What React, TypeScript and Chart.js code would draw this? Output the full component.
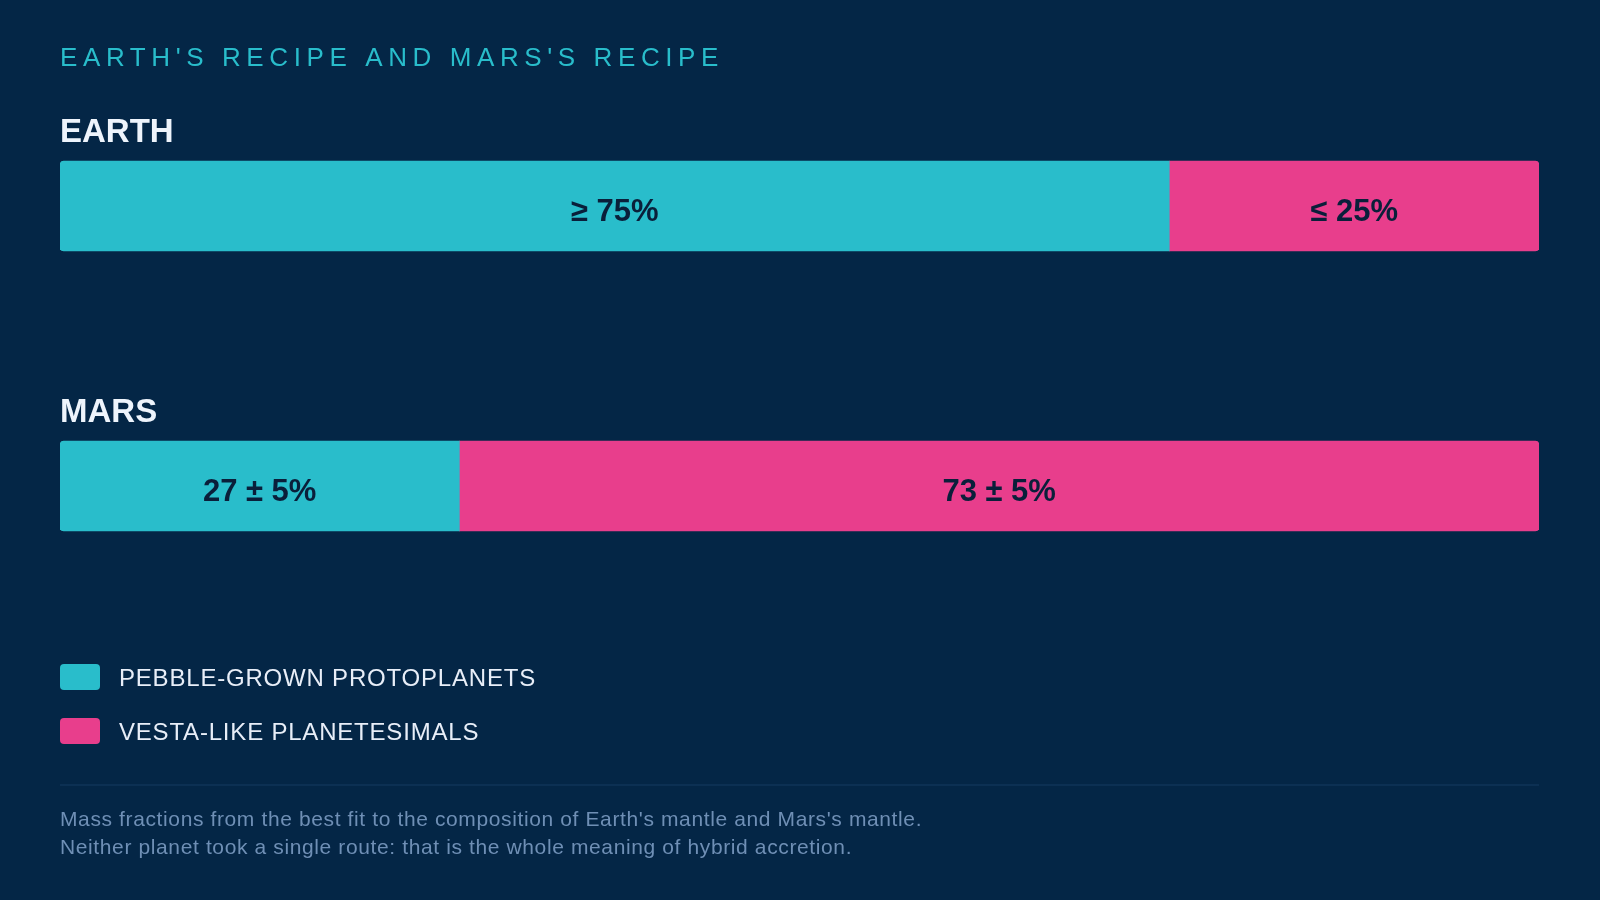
import React, { useEffect, useRef } from "react";
import { Chart, registerables } from "chart.js";

Chart.register(...registerables);

const TITLE = "EARTH'S RECIPE AND MARS'S RECIPE";
const PLANETS = ["EARTH", "MARS"];
const SERIES_NAMES = ["PEBBLE-GROWN PROTOPLANETS", "VESTA-LIKE PLANETESIMALS"];
const PEBBLE_VALUES = [75, 27];
const VESTA_VALUES = [25, 73];
const PEBBLE_LABELS = ["≥ 75%", "27 ± 5%"];
const VESTA_LABELS = ["≤ 25%", "73 ± 5%"];
const FOOTNOTE = [
  "Mass fractions from the best fit to the composition of Earth's mantle and Mars's mantle.",
  "Neither planet took a single route: that is the whole meaning of hybrid accretion.",
];

const BG = "#042646";
const TEAL = "#29bdcb";
const PINK = "#e83e8c";
const FONT = "'Liberation Sans', Arial, Helvetica, sans-serif";

const textPlugin = {
  id: "recipeText",
  afterDraw(chart: any) {
    const ctx = chart.ctx as CanvasRenderingContext2D;
    const area = chart.chartArea;
    ctx.save();
    // Title
    ctx.textAlign = "left";
    ctx.textBaseline = "alphabetic";
    ctx.fillStyle = TEAL;
    ctx.font = `400 26px ${FONT}`;
    (ctx as any).letterSpacing = "5.6px";
    ctx.fillText(TITLE, area.left, 66);
    (ctx as any).letterSpacing = "0px";

    // Headings and bar labels
    const labelsets = [PEBBLE_LABELS, VESTA_LABELS];
    const meta0 = chart.getDatasetMeta(0);
    meta0.data.forEach((el: any, i: number) => {
      const top = el.y - el.height / 2;
      ctx.fillStyle = "#eef4fc";
      ctx.font = `700 33px ${FONT}`;
      ctx.textAlign = "left";
      ctx.fillText(PLANETS[i], area.left, top - 19);
    });
    chart.data.datasets.forEach((_ds: any, d: number) => {
      const meta = chart.getDatasetMeta(d);
      meta.data.forEach((el: any, i: number) => {
        const c = el.getCenterPoint();
        ctx.fillStyle = "#0a1f3a";
        ctx.font = `700 31px ${FONT}`;
        ctx.textAlign = "center";
        ctx.fillText(labelsets[d][i], c.x, c.y + 14.5);
      });
    });

    // Legend
    chart.data.datasets.forEach((ds: any, d: number) => {
      const y = 664 + d * 54;
      ctx.fillStyle = ds.backgroundColor;
      ctx.beginPath();
      (ctx as any).roundRect(area.left, y, 40, 26, 4);
      ctx.fill();
      ctx.fillStyle = "#e8eef8";
      ctx.font = `400 24px ${FONT}`;
      ctx.textAlign = "left";
      (ctx as any).letterSpacing = "0.8px";
      ctx.fillText(ds.label, area.left + 59, y + 22);
      (ctx as any).letterSpacing = "0px";
    });

    // Separator
    ctx.strokeStyle = "#0f3559";
    ctx.lineWidth = 1.5;
    ctx.beginPath();
    ctx.moveTo(area.left, 785);
    ctx.lineTo(area.right, 785);
    ctx.stroke();

    // Footnote
    ctx.fillStyle = "#6f8fb5";
    ctx.font = `400 21px ${FONT}`;
    ctx.textAlign = "left";
    (ctx as any).letterSpacing = "0.62px";
    FOOTNOTE.forEach((line, i) => {
      ctx.fillText(line, area.left, 826 + i * 27.6);
    });
    (ctx as any).letterSpacing = "0px";
    ctx.restore();
  },
};

export default function App() {
  const ref = useRef<HTMLCanvasElement | null>(null);
  useEffect(() => {
    if (!ref.current) return;
    const chart = new Chart(ref.current, {
      type: "bar",
      data: {
        labels: PLANETS,
        datasets: [
          {
            label: SERIES_NAMES[0],
            data: PEBBLE_VALUES,
            backgroundColor: TEAL,
            borderWidth: 0,
            borderSkipped: false,
            borderRadius: { topLeft: 4, bottomLeft: 4, topRight: 0, bottomRight: 0 },
            barThickness: 90,
          },
          {
            label: SERIES_NAMES[1],
            data: VESTA_VALUES,
            backgroundColor: PINK,
            borderWidth: 0,
            borderSkipped: false,
            borderRadius: { topLeft: 0, bottomLeft: 0, topRight: 4, bottomRight: 4 },
            barThickness: 90,
          },
        ],
      },
      options: {
        indexAxis: "y",
        animation: false,
        responsive: false,
        maintainAspectRatio: false,
        layout: { padding: { left: 60, right: 61, top: 66, bottom: 274 } },
        scales: {
          x: { stacked: true, min: 0, max: 100, display: false },
          y: { stacked: true, display: false },
        },
        plugins: {
          legend: { display: false },
          tooltip: { enabled: false },
          title: { display: false },
        },
      },
      plugins: [textPlugin],
    } as any);
    return () => chart.destroy();
  }, []);
  return (
    <div
      style={{
        position: "fixed",
        left: 0,
        top: 0,
        width: 1600,
        height: 900,
        background: BG,
      }}
    >
      <canvas ref={ref} width={1600} height={900} style={{ display: "block" }} />
    </div>
  );
}
